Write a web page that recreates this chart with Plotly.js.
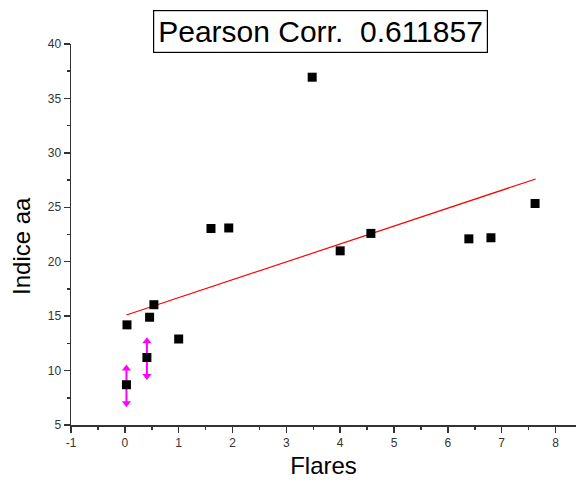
<!DOCTYPE html>
<html><head><meta charset="utf-8">
<script src="https://cdn.plot.ly/plotly-3.0.1.min.js"></script>
<style>html,body{margin:0;padding:0;background:#fff}#chart{width:576px;height:482px}</style>
</head><body><div id="chart"></div>
<script>
const flares = [0.04, 0.03, 0.41, 0.46, 0.54, 1.0, 1.6, 1.93, 3.48, 4.0, 4.57, 6.39, 6.8, 7.62];
const indiceAa = [14.2, 8.7, 11.2, 14.9, 16.05, 12.9, 23.05, 23.1, 36.95, 21.0, 22.6, 22.1, 22.2, 25.35];
const errX = [0.03, 0.41];
const errY = [8.7, 11.2];
const errPlus = [1.5, 1.5];
const errMinus = [1.7, 1.7];
const fitX = [0.03, 7.63];
const fitY = [15.1, 27.6];
const xTickVals = [-1, 0, 1, 2, 3, 4, 5, 6, 7, 8];
const xTickText = ['-1', '0', '1', '2', '3', '4', '5', '6', '7', '8'];
const pearsonLabel = 'Pearson Corr.  0.611857';
const yTitle = 'Indice aa';
const xTitle = 'Flares';

const font = 'Liberation Sans, Arial, sans-serif';
const errTop = errY.map((v,i)=>v+errPlus[i]);
const errBot = errY.map((v,i)=>v-errMinus[i]);

const traces = [
  {x: errX, y: errY, type:'scatter', mode:'markers', marker:{size:0,color:'rgba(0,0,0,0)'},
   error_y:{type:'data', symmetric:false, array:errPlus, arrayminus:errMinus, color:'#ff00ff', thickness:2, width:0},
   hoverinfo:'skip', showlegend:false},
  {x: errX, y: errTop, type:'scatter', mode:'markers', marker:{symbol:'triangle-up', size:8, color:'#ff00ff'}, showlegend:false},
  {x: errX, y: errBot, type:'scatter', mode:'markers', marker:{symbol:'triangle-down', size:8, color:'#ff00ff'}, showlegend:false},
  {x: fitX, y: fitY, type:'scatter', mode:'lines', line:{color:'#ff0000', width:1.2}, showlegend:false},
  {x: flares, y: indiceAa, type:'scatter', mode:'markers', marker:{symbol:'square', size:9, color:'#000'}, showlegend:false}
];

const axisCommon = {
  showgrid:false, zeroline:false, showline:true, linecolor:'#333', linewidth:1.5,
  ticks:'outside', ticklen:6, tickwidth:1.5, tickcolor:'#333',
  tickfont:{family:font, size:12, color:'#333'}
};

const layout = {
  width:576, height:482,
  margin:{l:71, r:0, t:44, b:57},
  paper_bgcolor:'#fff', plot_bgcolor:'#fff',
  showlegend:false,
  xaxis: Object.assign({}, axisCommon, {
    range:[-1, 8.38], tickmode:'array', tickvals:xTickVals, ticktext:xTickText,
    minor:{dtick:0.5, ticklen:3, ticks:'outside', tickcolor:'#333', tickwidth:1.5},
    title:{text:xTitle, font:{family:font, size:24, color:'#000'}, standoff:8}
  }),
  yaxis: Object.assign({}, axisCommon, {
    range:[5, 40], dtick:5, tick0:0,
    minor:{dtick:2.5, ticklen:3, ticks:'outside', tickcolor:'#333', tickwidth:1.5}
  }),
  annotations:[{
    text: pearsonLabel, xref:'paper', yref:'paper', x:0.495, y:1.089, xanchor:'center', yanchor:'top',
    showarrow:false, font:{family:font, size:30, color:'#000'},
    bordercolor:'#000', borderwidth:1.2, borderpad:4, bgcolor:'#fff'
  }, {
    text: yTitle, xref:'paper', yref:'paper', x:-0.097, y:0.47, xanchor:'center', yanchor:'middle',
    textangle:-90, showarrow:false, font:{family:font, size:24, color:'#000'}
  }]
};

Plotly.newPlot('chart', traces, layout, {displayModeBar:false, staticPlot:true});
</script></body></html>
